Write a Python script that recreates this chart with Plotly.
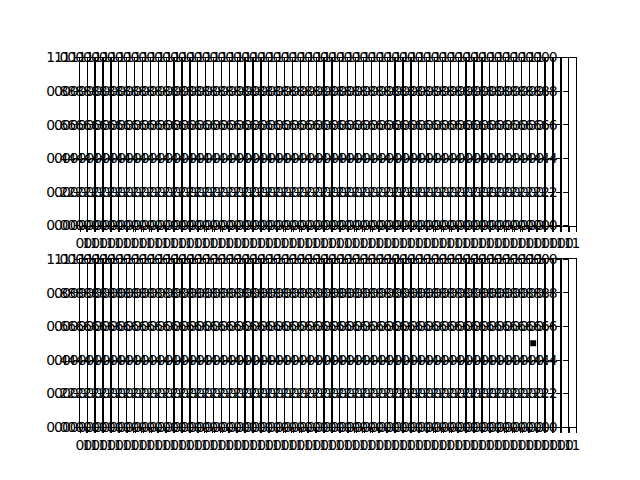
import plotly.graph_objects as go

# ---- data ----
n_rows = 2
n_cols = 63
x_ticks = [0, 1]
x_labels = ["0", "1"]
y_ticks = [0.0, 0.2, 0.4, 0.6, 0.8, 1.0]
y_labels = ["0.0", "0.2", "0.4", "0.6", "0.8", "1.0"]
point_x = [0.5]
point_y = [0.5]
point_row = 2
point_col = 57  # 0-based column index

# ---- layout geometry (matplotlib-like subplot params) ----
W, H = 640, 480
left_px, right_px = 80.0, 576.0
top_px, bottom_px = 57.6, 427.2
wspace, hspace = 0.2, 0.2
col_w = (right_px - left_px) / (n_cols + (n_cols - 1) * wspace)
row_h = (bottom_px - top_px) / (n_rows + (n_rows - 1) * hspace)

font = dict(family="DejaVu Sans", size=13.9, color="black")
fig = go.Figure()
layout = {}
k = 0
for r in range(n_rows):
    y0 = top_px + r * row_h * (1 + hspace)
    y1 = y0 + row_h
    for c in range(n_cols):
        k += 1
        x0 = left_px + c * col_w * (1 + wspace)
        x1 = x0 + col_w
        xa = "x" if k == 1 else f"x{k}"
        ya = "y" if k == 1 else f"y{k}"
        xk = "xaxis" if k == 1 else f"xaxis{k}"
        yk = "yaxis" if k == 1 else f"yaxis{k}"
        common = dict(range=[0, 1], showgrid=False, zeroline=False,
                      showline=True, linecolor="black", linewidth=1,
                      mirror=True, ticks="outside", ticklen=5, tickwidth=1,
                      tickcolor="black", tickfont=font, automargin=False,
                      fixedrange=True, tickangle=0)
        layout[xk] = dict(domain=[x0 / W, x1 / W], anchor=ya,
                          tickvals=x_ticks, ticktext=x_labels,
                          ticklabelstandoff=0, **common)
        layout[yk] = dict(domain=[1 - y1 / H, 1 - y0 / H], anchor=xa,
                          tickvals=y_ticks, ticktext=y_labels,
                          ticklabelstandoff=3, **common)
        if r + 1 == point_row and c == point_col:
            fig.add_trace(go.Scatter(x=point_x, y=point_y, xaxis=xa, yaxis=ya,
                                     mode="markers",
                                     marker=dict(symbol="square", size=6,
                                                 color="black"),
                                     showlegend=False, hoverinfo="skip"))
        else:
            fig.add_trace(go.Scatter(x=[], y=[], xaxis=xa, yaxis=ya,
                                     mode="markers", showlegend=False,
                                     hoverinfo="skip"))

fig.update_layout(width=W, height=H, margin=dict(l=0, r=0, t=0, b=0),
                  paper_bgcolor="white", plot_bgcolor="white",
                  showlegend=False, font=font, **layout)
fig.write_html("out.html", config={"displayModeBar": False})
